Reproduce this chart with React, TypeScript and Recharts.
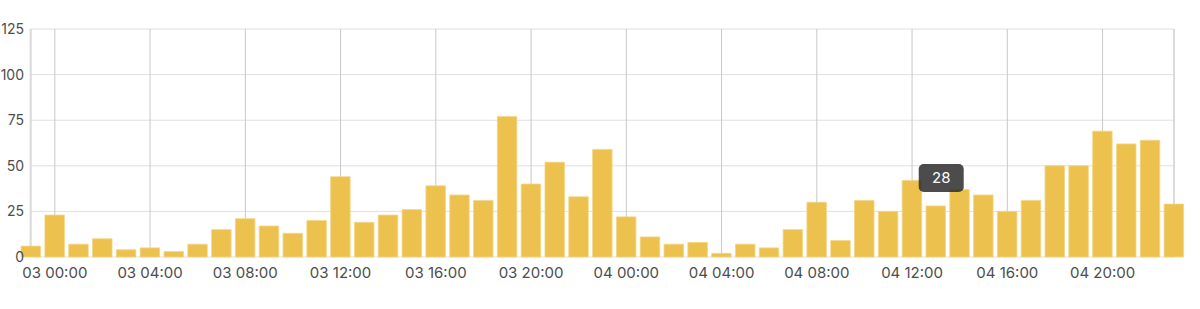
import { BarChart, Bar, XAxis, YAxis, CartesianGrid, LabelList } from "recharts";

// hourly slots, 02 23:00 through 04 23:00
const slots: string[] = ["02 23:00"];
for (const day of ["03", "04"]) {
  for (let h = 0; h < 24; h++) slots.push(`${day} ${String(h).padStart(2, "0")}:00`);
}

const counts: number[] = [
  6, 23, 7, 10, 4, 5, 3, 7, 15, 21, 17, 13, 20, 44, 19, 23, 26, 39, 34, 31, 77, 40, 52, 33, 59,
  22, 11, 7, 8, 2, 7, 5, 15, 30, 9, 31, 25, 42, 28, 37, 34, 25, 31, 50, 50, 69, 62, 64, 29,
];

const xTickLabels: string[] = [
  "03 00:00", "03 04:00", "03 08:00", "03 12:00", "03 16:00", "03 20:00",
  "04 00:00", "04 04:00", "04 08:00", "04 12:00", "04 16:00", "04 20:00",
];

const yTicks: number[] = [0, 25, 50, 75, 100, 125];

const tooltipSlot = "04 13:00";

const data = slots.map((time, i) => ({ i, time, count: counts[i] }));
const xTicks = xTickLabels.map((l) => slots.indexOf(l));
const tooltipIndex = slots.indexOf(tooltipSlot);

const FONT = "Inter, 'Noto Sans', sans-serif";

const TipLabel = (props: any) => {
  const { x, y, width, value, index } = props;
  if (index !== tooltipIndex) return null;
  const cx = Number(x) + Number(width) / 2 + 5.5;
  const top = Number(y) - 42;
  return (
    <g>
      <rect x={cx - 22.5} y={top} width={45} height={28} rx={5} fill="rgba(45,45,45,0.85)" />
      <text x={cx} y={top + 14} dy="0.36em" textAnchor="middle" fill="#fff" fontSize={15} fontFamily={FONT}>
        {value}
      </text>
    </g>
  );
};

export default function App() {
  return (
    <div style={{ position: "absolute", left: 0, top: 0, background: "#fff" }}>
      <BarChart width={1200} height={309} data={data} margin={{ top: 29, right: 26, left: 0, bottom: 0 }}>
        <CartesianGrid
          stroke="#e0e0e0"
          horizontal={true}
          verticalCoordinatesGenerator={({ offset }: any) => [offset.left - 1, offset.left + offset.width]}
        />
        <CartesianGrid stroke="#c8c8c8" horizontal={false} />
        <XAxis
          dataKey="i"
          type="number"
          domain={[0, slots.length - 1]}
          ticks={xTicks}
          tickFormatter={(v: number) => slots[v]}
          interval={0}
          height={52}
          axisLine={false}
          tickLine={false}
          tickSize={0}
          tickMargin={10}
          tick={{ fill: "#4d4d4d", fontSize: 15, fontFamily: FONT }}
        />
        <YAxis
          domain={[0, 125]}
          ticks={yTicks}
          width={31}
          axisLine={false}
          tickLine={false}
          tickSize={0}
          tickMargin={7}
          tick={{ fill: "#4d4d4d", fontSize: 14, fontFamily: FONT }}
        />
        <Bar dataKey="count" fill="#ecc14e" stroke="#f3d687" strokeWidth={0.8} barSize={19.5} isAnimationActive={false}>
          <LabelList dataKey="count" content={TipLabel} />
        </Bar>
      </BarChart>
    </div>
  );
}
